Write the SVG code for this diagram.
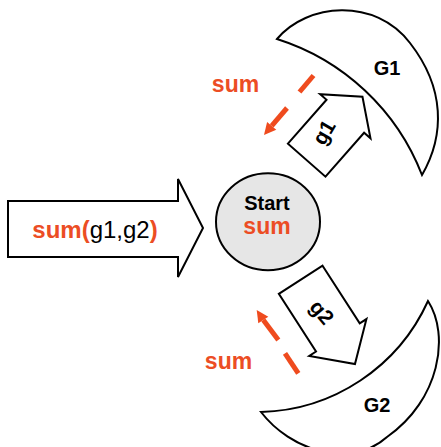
<svg xmlns="http://www.w3.org/2000/svg" width="441" height="447" viewBox="0 0 441 447">
<style>
.shape{fill:#fff;stroke:#000;stroke-width:2;stroke-linejoin:miter}
.lbl{font-family:"Liberation Sans",Arial,sans-serif;font-weight:bold;fill:#000}
.red{fill:#ec4d24}
.flow line{stroke:#ef4b1e;stroke-width:5}
.flow polygon{fill:#ef4b1e}
</style>
<rect width="441" height="447" fill="#fff"/>
<g id="input">
<path class="shape" d="M8,201 L178,201 L178,179 L203,228 L178,277 L178,257 L8,257 Z"/>
<text x="95" y="238" text-anchor="middle" font-size="24" class="lbl"><tspan class="red">sum(</tspan><tspan font-weight="normal">g1,g2</tspan><tspan class="red">)</tspan></text>
</g>
<g id="start">
<ellipse cx="268" cy="221.7" rx="52" ry="48.5" fill="#e6e6e6" stroke="#000" stroke-width="2"/>
<text x="267" y="210" text-anchor="middle" font-size="20" class="lbl">Start</text>
<text x="267" y="234" text-anchor="middle" font-size="23" class="lbl red">sum</text>
</g>
<g id="G1">
<path class="shape" d="M277,39 C307,3 375,-3 410,43 C445,88 445,135 422,175 A230,230 0 0 0 277,39 Z"/>
<text x="387" y="75" text-anchor="middle" font-size="20" class="lbl">G1</text>
</g>
<g id="G2">
<path class="shape" d="M428,301 C450,335 440,400 387,437 C350,470 290,450 261,412 A189,189 0 0 0 428,301 Z"/>
<text x="377" y="412" text-anchor="middle" font-size="20" class="lbl">G2</text>
</g>
<g id="g1">
<path class="shape" transform="translate(306.7,160.2) rotate(-48.7)" d="M0,-25 L58.5,-25 L58.5,-33.5 L84.5,0 L58.5,33.5 L58.5,25 L0,25 Z"/>
<text transform="translate(325,133) rotate(-60)" y="6" text-anchor="middle" font-size="21" class="lbl" font-weight="normal">g1</text>
</g>
<g id="g2">
<path class="shape" transform="translate(300.7,279.8) rotate(57.2)" d="M0,-26 L68.6,-26 L68.6,-34 L100.2,0 L68.6,34 L68.6,26 L0,26 Z"/>
<text transform="translate(321,313) rotate(50)" y="6" text-anchor="middle" font-size="21" class="lbl" font-weight="normal">g2</text>
</g>
<g id="connectors" class="flow">
<line x1="313.5" y1="75.5" x2="299.5" y2="92"/>
<line x1="287" y1="108" x2="271.7" y2="125.8"/>
<polygon points="264,135 276.3,129.7 267.1,121.9"/>
<line x1="298.3" y1="373.3" x2="285" y2="353.3"/>
<line x1="278.3" y1="340" x2="263.3" y2="320"/>
<polygon points="256.7,310 268.3,316.7 258.3,323.3"/>
</g>
<g id="labels">
<text x="235.5" y="92" text-anchor="middle" font-size="23" class="lbl red">sum</text>
<text x="228.5" y="369" text-anchor="middle" font-size="23" class="lbl red">sum</text>
</g>
</svg>
